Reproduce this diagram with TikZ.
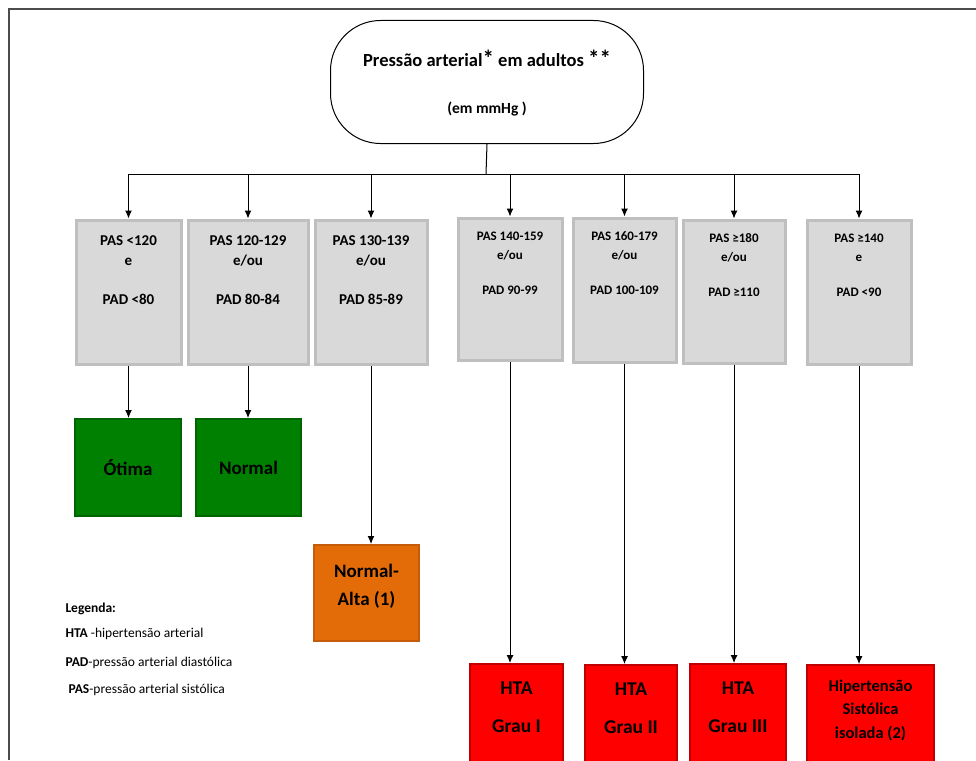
\documentclass[tikz,border=0pt]{standalone}
\usepackage{fontspec}
\setmainfont{Carlito}
\usetikzlibrary{arrows.meta}

\definecolor{verde}{RGB}{0,128,0}
\definecolor{verdeesc}{RGB}{0,100,0}
\definecolor{laranja}{RGB}{227,108,9}
\definecolor{laranjaesc}{RGB}{196,92,12}
\definecolor{vermelho}{RGB}{255,0,0}
\definecolor{vermelhoesc}{RGB}{192,0,0}

% height, width, first baseline, text
\newcommand\caixa[4]{\parbox[c][#1][t]{#2}{\centering\rule{0pt}{#3}#4}}
\newcommand\asterisco[1]{{\fontsize{23}{20}\selectfont #1}}

\tikzset{
  seta/.style={-{Latex[length=8pt,width=7pt]}},
  caixabase/.style={inner sep=0pt,anchor=north west},
  cinza/.style={caixabase,draw=black!25,line width=3pt,fill=black!15},
  cinzaA/.style={cinza,font=\fontsize{15}{19.5}\selectfont\bfseries},
  cinzaB/.style={cinza,font=\fontsize{13}{19}\selectfont\bfseries},
  verdebox/.style={caixabase,draw=verdeesc,line width=2pt,fill=verde,
    minimum width=106pt,minimum height=97pt,font=\fontsize{19}{23}\selectfont\bfseries},
  laranjabox/.style={caixabase,draw=laranjaesc,line width=2pt,fill=laranja,
    font=\fontsize{19}{28}\selectfont\bfseries},
  htabox/.style={caixabase,draw=vermelhoesc,line width=2pt,fill=vermelho,
    font=\fontsize{19.5}{38}\selectfont\bfseries},
  legenda/.style={anchor=base west,inner sep=0pt,font=\fontsize{13.5}{16}\selectfont},
}

\begin{document}
\begin{tikzpicture}[x=1pt,y=-1pt,line width=1pt]
\useasboundingbox (0,0) rectangle (976,760);
\draw[black!70,line width=1.2pt] (9,760) -- (9,9) -- (976,9);

\node[draw,rounded corners=50pt,inner sep=0pt,anchor=north west,
  font=\fontsize{18.5}{47}\selectfont\bfseries] (topo) at (330,20)
  {\caixa{123pt}{313pt}{46pt}{Pressão arterial\asterisco{*} em adultos \asterisco{**}\\
   {\fontsize{15.5}{18}\selectfont (em mmHg )}}};

% classes
\node[cinzaA] (g1) at (74.5,218.5) {\caixa{144pt}{105pt}{25.5pt}{PAS <120\\e\\[19.5pt]PAD <80}};
\node[cinzaA] (g2) at (186.5,218.5) {\caixa{144pt}{120pt}{25.5pt}{PAS 120-129\\e/ou\\[19.5pt]PAD 80-84}};
\node[cinzaA] (g3) at (313.5,218.5) {\caixa{144pt}{112pt}{25.5pt}{PAS 130-139\\e/ou\\[19.5pt]PAD 85-89}};
\node[cinzaB] (g4) at (456.5,216.5) {\caixa{142pt}{104pt}{22.5pt}{PAS 140-159\\e/ou\\[16pt]PAD 90-99}};
\node[cinzaB] (g5) at (571.5,216.5) {\caixa{144pt}{103pt}{22.5pt}{PAS 160-179\\e/ou\\[16pt]PAD 100-109}};
\node[cinzaB] (g6) at (681.5,218.5) {\caixa{143pt}{102pt}{22.5pt}{PAS ≥180\\e/ou\\[16pt]PAD ≥110}};
\node[cinzaB] (g7) at (805.5,218.5) {\caixa{144pt}{104pt}{22.5pt}{PAS ≥140\\e\\[16pt]PAD <90}};

% resultados
\node[verdebox] (r1) at (74,418) {Ótima};
\node[verdebox,minimum width=105pt] (r2) at (195,418) {Normal};
\node[laranjabox] (r3) at (313,544) {\caixa{96pt}{105pt}{32pt}{Normal-\\Alta (1)}};
\node[htabox] (r4) at (469,663) {\caixa{118pt}{93pt}{30pt}{HTA\\Grau I}};
\node[htabox] (r5) at (584,664) {\caixa{118pt}{92pt}{30pt}{HTA\\Grau II}};
\node[htabox] (r6) at (689,663) {\caixa{118pt}{96pt}{30pt}{HTA\\Grau III}};
\node[htabox,font=\fontsize{16.5}{23.5}\selectfont\bfseries] (r7) at (806,664)
  {\caixa{118pt}{127pt}{26pt}{Hipertensão\\Sistólica\\isolada (2)}};

\coordinate (barra) at (486,174);
\draw (topo.south) -- (barra);
\draw (g1.north |- barra) -- (g7.north |- barra);
\foreach \n in {1,...,7}
  \draw[seta] (g\n.north |- barra) -- (g\n.north);
\foreach \n in {1,...,7}
  \draw[seta] (g\n.south) -- (g\n.south |- r\n.north);

% legenda
\node[legenda] (leg0) at (65,612) {\textbf{Legenda:}};
\node[legenda] (leg1) at (65,637) {\textbf{HTA} -hipertensão arterial};
\node[legenda] (leg2) at (65,666) {\textbf{PAD}-pressão arterial diastólica};
\node[legenda] (leg3) at (68,693) {\textbf{PAS}-pressão arterial sistólica};
\end{tikzpicture}
\end{document}
